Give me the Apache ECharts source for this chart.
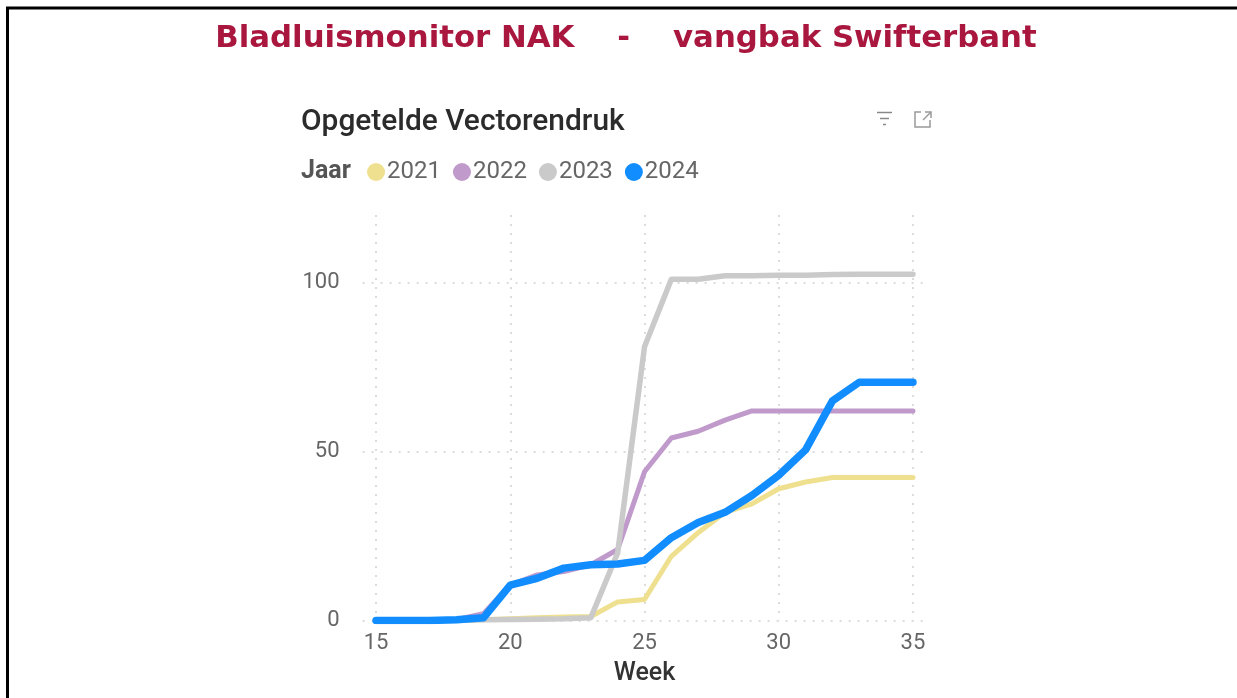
<!DOCTYPE html>
<html><head><meta charset="utf-8">
<style>html,body{margin:0;padding:0;background:#fff}#c{width:1237px;height:698px}</style>
<script src="https://cdn.jsdelivr.net/npm/echarts@6/dist/echarts.min.js"></script>
</head><body><div id="c"></div>
<script>
const weeks = [15,16,17,18,19,20,21,22,23,24,25,26,27,28,29,30,31,32,33,34,35];
const y2021 = [0,0,0,0.1,0.2,0.5,0.8,1,1.2,5.5,6.2,19,26,32,34.5,39,41,42.3,42.3,42.3,42.3];
const y2022 = [0,0,0,0.3,2,10.5,13.5,14.5,16.5,21,44,54,56,59.3,62,62,62,62,62,62,62];
const y2023 = [0,0,0,0,0.2,0.3,0.4,0.5,0.8,20,81,101,101,102,102,102.2,102.2,102.4,102.5,102.5,102.5];
const y2024 = [0,0,0,0.2,0.8,10.5,12.5,15.5,16.5,16.7,17.8,24.5,29,32,37,43,50.5,65,70.5,70.5,70.5];
const xTicks = [15,20,25,30,35];
const names = ['2021','2022','2023','2024'];
const colors = ['#EFE08F','#C09ACB','#CACACA','#118DFF'];
const widths = [5,5,5.5,7.5];
const values = [y2021,y2022,y2023,y2024];
const chart = echarts.init(document.getElementById('c'),null,{renderer:'canvas'});
const dot = {color:'#dcdcdc',width:2,type:[2,7]};
chart.setOption({
  animation:false,
  backgroundColor:'#fff',
  title:[
    {text:'Bladluismonitor NAK    -    vangbak Swifterbant',left:621,top:18,textAlign:'center',
     textStyle:{fontFamily:'DejaVu Sans',fontWeight:'bold',fontSize:30.8,color:'#A9173F'}},
    {text:'Opgetelde Vectorendruk',left:296,top:103,
     textStyle:{fontFamily:'Roboto',fontWeight:500,fontSize:29.9,color:'#2b2b2b'}}
  ],
  legend:{left:362,top:155,icon:'circle',itemWidth:18,itemHeight:18,itemGap:12,
    data:names,textStyle:{fontFamily:'Roboto',fontSize:24,color:'#666',padding:[0,0,0,-3]}},
  grid:{left:362.6,right:310.6,top:215,bottom:77.5,containLabel:false},
  xAxis:{type:'value',min:14.5,max:35.5,name:'Week',nameLocation:'middle',nameGap:41,
    nameTextStyle:{fontFamily:'Roboto',fontWeight:500,fontSize:25,color:'#333'},
    axisLine:{show:false},
    axisTick:{show:false,customValues:xTicks},
    axisLabel:{customValues:xTicks,fontFamily:'Roboto',fontSize:22,color:'#666',margin:12},
    splitLine:{show:true,lineStyle:dot}},
  yAxis:{type:'value',min:0,max:120,interval:50,
    axisLine:{show:false},axisTick:{show:false},
    axisLabel:{fontFamily:'Roboto',fontSize:22,color:'#666',margin:23,padding:[2,0,0,0],
      formatter:v=>v>100?'':v},
    splitLine:{show:true,showMaxLine:false,lineStyle:dot}},
  series:names.map((n,i)=>({
    name:n,type:'line',showSymbol:false,symbol:'circle',z:2+i,
    lineStyle:{color:colors[i],width:widths[i],cap:'round',join:'round'},
    itemStyle:{color:colors[i]},
    data:weeks.map((w,j)=>[w,values[i][j]])
  })),
  graphic:[
    {type:'rect',shape:{x:7.5,y:8,width:1300,height:800},style:{fill:'none',stroke:'#000',lineWidth:3},silent:true},
    {type:'text',left:301,top:159,style:{text:'Jaar',fontFamily:'Roboto',fontWeight:'bold',fontSize:25,fill:'#555'}},
    {type:'line',shape:{x1:877,y1:112.5,x2:892,y2:112.5},style:{stroke:'#888',lineWidth:1.5}},
    {type:'line',shape:{x1:880,y1:118.5,x2:889,y2:118.5},style:{stroke:'#888',lineWidth:1.5}},
    {type:'line',shape:{x1:883,y1:124.5,x2:886,y2:124.5},style:{stroke:'#888',lineWidth:1.5}},
    {type:'polyline',shape:{points:[[921,112],[915,112],[915,127],[930,127],[930,120]]},style:{stroke:'#999',fill:'none',lineWidth:1.5}},
    {type:'polyline',shape:{points:[[925,112],[931,112],[931,118]]},style:{stroke:'#999',fill:'none',lineWidth:1.5}},
    {type:'line',shape:{x1:931,y1:112,x2:923,y2:120},style:{stroke:'#999',lineWidth:1.5}}
  ]
});
</script></body></html>
